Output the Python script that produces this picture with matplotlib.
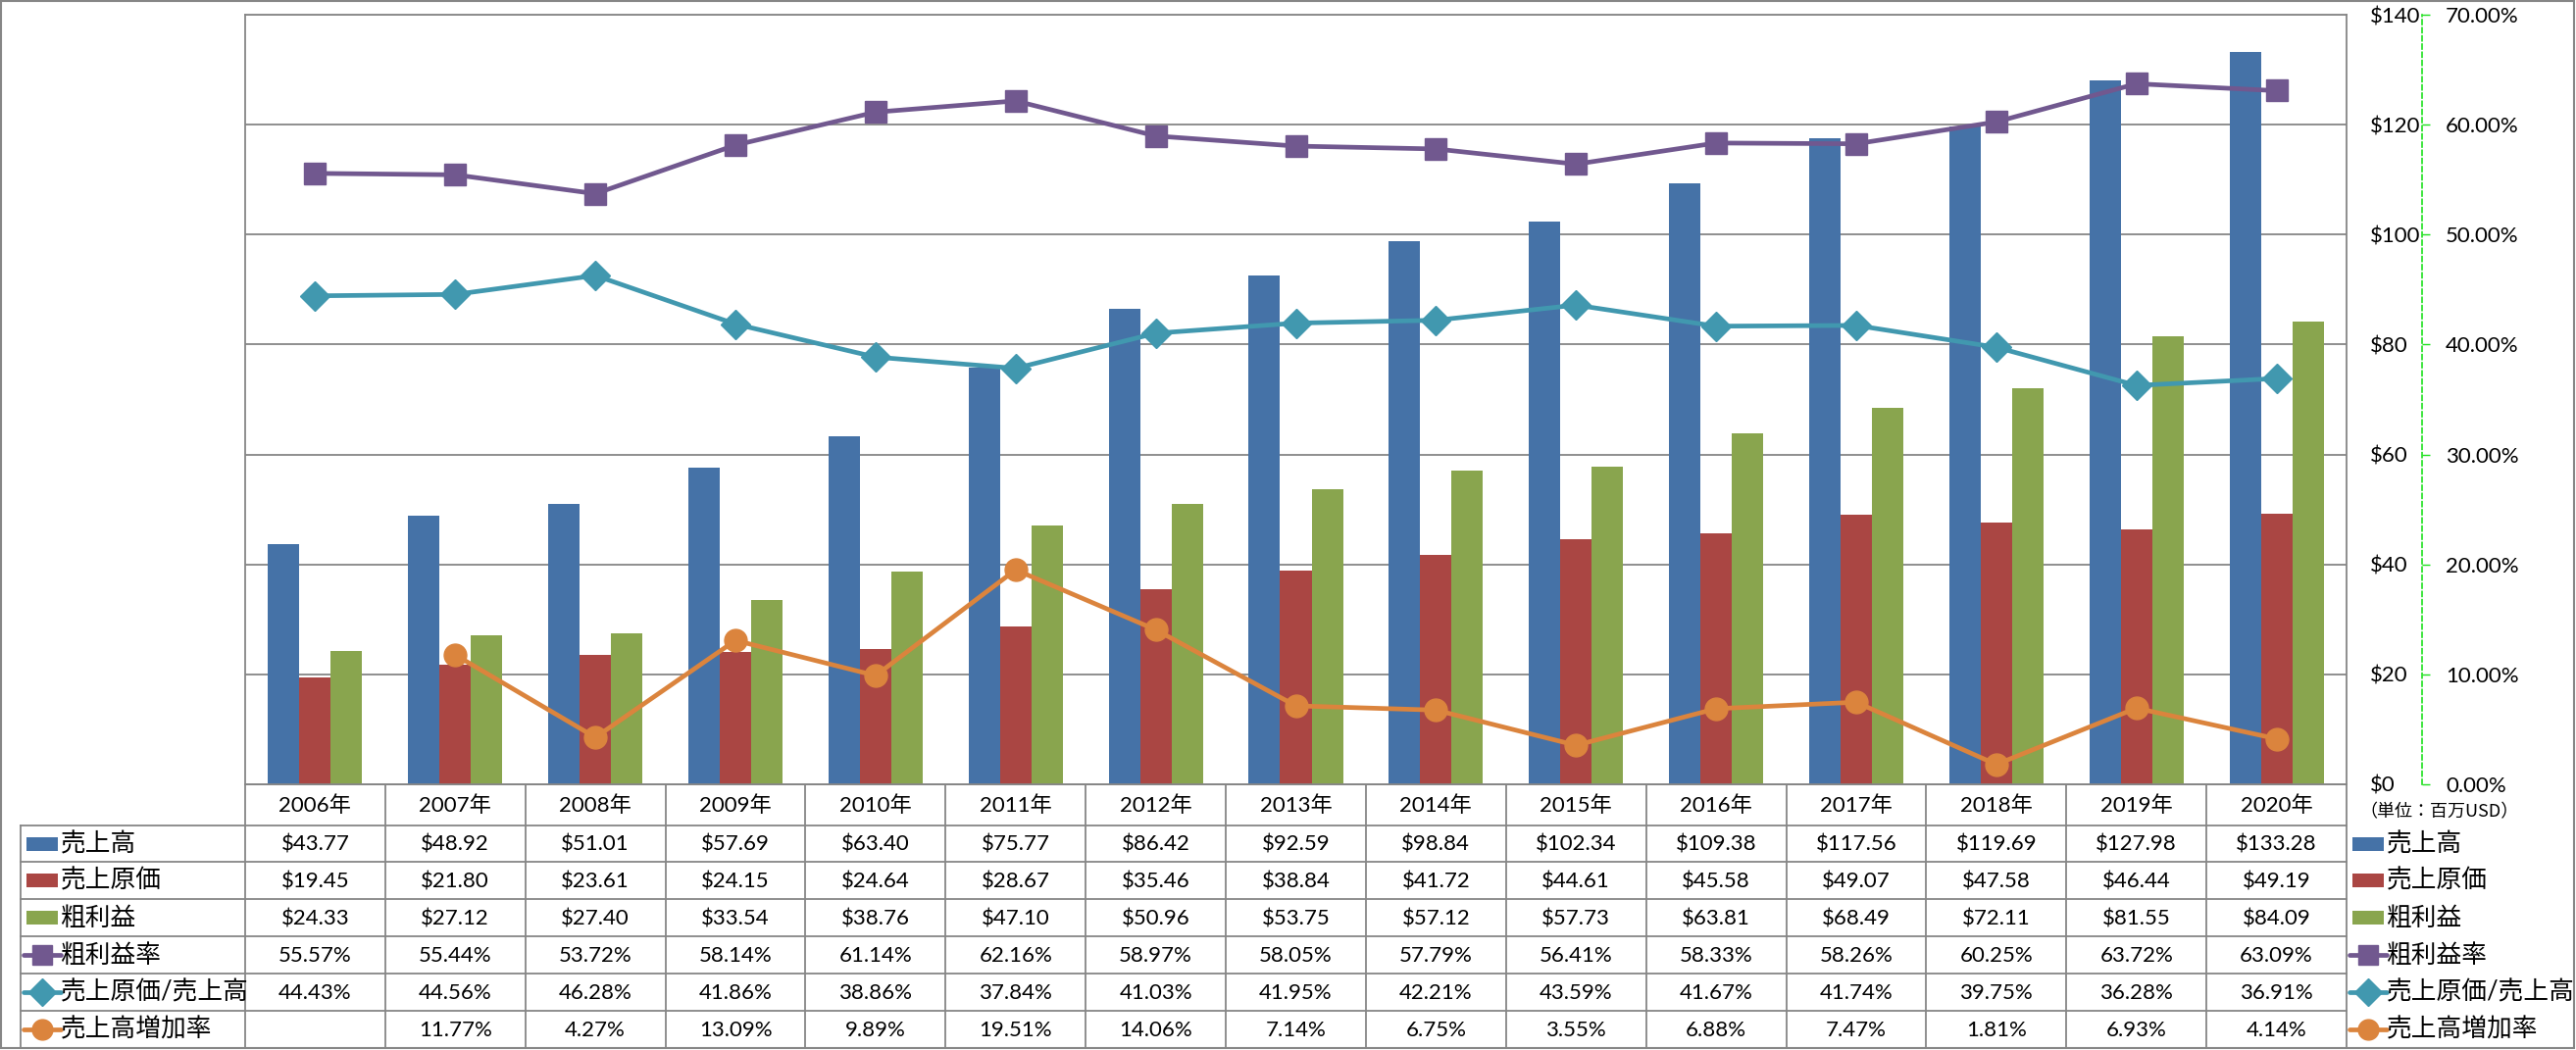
import numpy as np
import matplotlib
matplotlib.use("Agg")
import matplotlib.pyplot as plt
from matplotlib.patches import Rectangle

# Fonts: Latin digits in Lato, Japanese falls back to Noto CJK
plt.rcParams['font.family'] = ['Lato', 'Noto Sans CJK JP']

# ---- data (百万USD / %) ----
years = ["2006年", "2007年", "2008年", "2009年", "2010年", "2011年", "2012年", "2013年",
         "2014年", "2015年", "2016年", "2017年", "2018年", "2019年", "2020年"]
sales = [43.77, 48.92, 51.01, 57.69, 63.40, 75.77, 86.42, 92.59, 98.84, 102.34,
         109.38, 117.56, 119.69, 127.98, 133.28]
cogs = [19.45, 21.80, 23.61, 24.15, 24.64, 28.67, 35.46, 38.84, 41.72, 44.61,
        45.58, 49.07, 47.58, 46.44, 49.19]
gross_profit = [24.33, 27.12, 27.40, 33.54, 38.76, 47.10, 50.96, 53.75, 57.12, 57.73,
                63.81, 68.49, 72.11, 81.55, 84.09]
gross_margin = [55.57, 55.44, 53.72, 58.14, 61.14, 62.16, 58.97, 58.05, 57.79, 56.41,
                58.33, 58.26, 60.25, 63.72, 63.09]
cogs_ratio = [44.43, 44.56, 46.28, 41.86, 38.86, 37.84, 41.03, 41.95, 42.21, 43.59,
              41.67, 41.74, 39.75, 36.28, 36.91]
sales_growth = [np.nan, 11.77, 4.27, 13.09, 9.89, 19.51, 14.06, 7.14, 6.75, 3.55,
                6.88, 7.47, 1.81, 6.93, 4.14]

labels = ["売上高", "売上原価", "粗利益", "粗利益率", "売上原価/売上高", "売上高増加率"]
unit_note = "（単位：百万USD）"

BLUE = "#4572A7"
RED = "#AA4643"
GREEN = "#89A54E"
PURPLE = "#71588F"
TEAL = "#4198AF"
ORANGE = "#DB843D"
GRID = "#868686"
LIME = "#1EE01E"

W, H, DPI = 2627, 1071, 100
FS = 16        # numbers
FS_JP = 18.5   # japanese labels


def px_rect(x0, y0, x1, y1):
    return [x0 / W, 1 - y1 / H, (x1 - x0) / W, (y1 - y0) / H]


fig = plt.figure(figsize=(W / DPI, H / DPI), dpi=DPI)

# overlay in pixel coords for the data table, legend and frame
ax_t = fig.add_axes([0, 0, 1, 1])
ax_t.set_xlim(0, W)
ax_t.set_ylim(H, 0)
ax_t.axis('off')

ax = fig.add_axes(px_rect(250, 15, 2393, 800))
x = np.arange(len(years))
bw = 0.224
ax.bar(x - bw, sales, bw, color=BLUE, zorder=2)
ax.bar(x, cogs, bw, color=RED, zorder=2)
ax.bar(x + bw, gross_profit, bw, color=GREEN, zorder=2)
ax.set_xlim(-0.5, len(years) - 0.5)
ax.set_ylim(0, 140)
ax.set_xticks([])
ax.grid(axis='y', color=GRID, lw=1.3, zorder=1)
ax.set_axisbelow(True)
for s in ax.spines.values():
    s.set_color(GRID)
    s.set_linewidth(1.3)

ax2 = ax.twinx()
ax2.set_ylim(0, 0.7)
ax2.set_yticks(np.arange(0, 0.71, 0.1))
ax2.yaxis.set_major_formatter(lambda v, p: f"{v * 100:.2f}%")
for k in ['left', 'top', 'bottom']:
    ax2.spines[k].set_visible(False)
ax2.spines['right'].set_position(('outward', 55.4))
ax2.spines['right'].set_color(LIME)
ax2.spines['right'].set_linestyle((0, (3, 2)))
ax2.spines['right'].set_linewidth(1.2)
ax2.tick_params(axis='y', direction='out', length=5.8, width=1, color=LIME, pad=11.5, labelsize=FS)

# dollar axis labels (twinx resets main ticks to the left, so set after)
ax.set_yticks(range(0, 141, 20))
ax.yaxis.set_major_formatter(lambda v, p: f"${v:.0f}")
ax.yaxis.tick_right()
ax.tick_params(axis='y', which='both', left=False, right=True, labelleft=False, labelright=True,
               length=0, pad=17.3, labelsize=FS)

line_styles = [
    (gross_margin, PURPLE, 's', 16.5),
    (cogs_ratio, TEAL, 'D', 15.5),
    (sales_growth, ORANGE, 'o', 16.5),
]
for vals, c, m, ms in line_styles:
    ax2.plot(x, np.array(vals) / 100, color=c, lw=3.4, marker=m, ms=ms, mec=c, zorder=3, clip_on=False)

# ---- data table ----
def col_px(xd):
    return ax.transData.transform((xd, 0))[0]

edges = [col_px(i - 0.5) for i in range(len(years) + 1)]
centers = [col_px(i) for i in range(len(years))]
row_y = [800, 842, 879, 917, 955, 993, 1031, 1069]
left_x = 21
lc = dict(color=GRID, lw=1.3)

ax_t.plot([edges[0], edges[-1]], [row_y[0], row_y[0]], **lc)
for y in row_y[1:]:
    ax_t.plot([left_x, edges[-1]], [y, y], **lc)
for e in edges:
    ax_t.plot([e, e], [row_y[0], row_y[-1]], **lc)
ax_t.plot([left_x, left_x], [row_y[1], row_y[-1]], **lc)

for cx, yr in zip(centers, years):
    ax_t.text(cx, (row_y[0] + row_y[1]) / 2 + 1, yr, ha='center', va='center', fontsize=FS)

rows = [
    [f"${v:.2f}" for v in sales],
    [f"${v:.2f}" for v in cogs],
    [f"${v:.2f}" for v in gross_profit],
    [f"{v:.2f}%" for v in gross_margin],
    [f"{v:.2f}%" for v in cogs_ratio],
    ["" if np.isnan(v) else f"{v:.2f}%" for v in sales_growth],
]
key_styles = [
    ('bar', BLUE, None), ('bar', RED, None), ('bar', GREEN, None),
    ('line', PURPLE, 's'), ('line', TEAL, 'D'), ('line', ORANGE, 'o'),
]


def draw_key(x0, yc, style):
    kind, c, m = style
    if kind == 'bar':
        ax_t.add_patch(Rectangle((x0, yc - 7), 32, 14, color=c, lw=0))
    else:
        ax_t.plot([x0 - 3, x0 + 35], [yc, yc], color=c, lw=3.4, solid_capstyle='round')
        ax_t.plot([x0 + 16], [yc], marker=m, ms=15 if m != 'D' else 14, color=c, mec=c)


for r, (vals, lab, st) in enumerate(zip(rows, labels, key_styles)):
    yc = (row_y[r + 1] + row_y[r + 2]) / 2
    for cx, v in zip(centers, vals):
        ax_t.text(cx, yc + 1, v, ha='center', va='center', fontsize=FS)
    # left legend column
    draw_key(27, yc, st)
    ax_t.text(62, yc, lab, ha='left', va='center', fontsize=FS_JP)
    # right legend
    draw_key(2399, yc, st)
    ax_t.text(2434, yc, lab, ha='left', va='center', fontsize=FS_JP)

ax_t.text(2488, 828, unit_note, ha='center', va='center', fontsize=13,
          family=['Noto Sans CJK JP'])

# outer chart frame
ax_t.add_patch(Rectangle((1, 1), W - 3, H - 3, fill=False, ec=GRID, lw=1.5))

fig.savefig("out.png", dpi=DPI)
